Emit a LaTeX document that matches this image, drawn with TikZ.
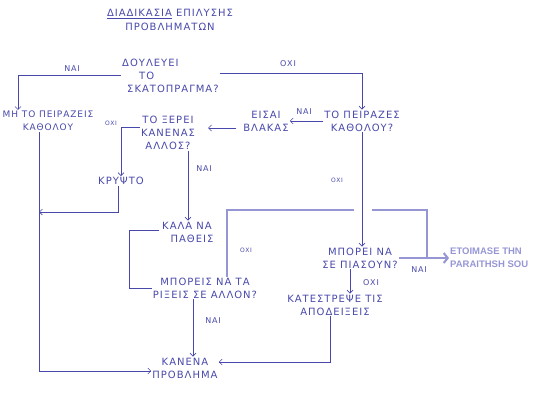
\documentclass[tikz,border=0pt]{standalone}
\usepackage{fontspec}
\setmainfont[LetterSpace=10]{DejaVu Sans}
\newfontfamily\printfont{Liberation Sans}
\usetikzlibrary{arrows.meta, positioning, calc}
\definecolor{pen1}{RGB}{72, 72, 172}
\definecolor{lav1}{RGB}{150, 150, 212}

\begin{document}
\begin{tikzpicture}[x=1pt, y=-1pt,
  hand/.style={text=pen1, font=\fontsize{10}{13}\selectfont, align=center, inner sep=1pt},
  lbl/.style={text=pen1, font=\fontsize{8}{9}\selectfont, inner sep=1pt},
  tinylbl/.style={text=pen1, font=\fontsize{6}{7}\selectfont, inner sep=1pt},
  penline/.style={draw=pen1, line width=0.6pt},
  flow/.style={penline, -{Straight Barb[length=3pt, width=6pt]}},
  added/.style={draw=lav1, line width=2pt},
  addarrow/.style={added, -{Straight Barb[length=4pt, width=10pt]}},
]
  \useasboundingbox (0,0) rectangle (550,407);

  % title
  \node[hand, font=\fontsize{10}{14}\selectfont] (title) at (170,20) {\underline{ΔΙΑΔΙΚΑΣΙΑ} ΕΠΙΛΥΣΗΣ\\ΠΡΟΒΛΗΜΑΤΩΝ};

  % questions and answers
  \node[hand, align=left, anchor=west] (q1) at (121,76) {ΔΟΥΛΕΥΕΙ\\\hspace*{17pt}ΤΟ\\\hspace*{5pt}ΣΚΑΤΟΠΡΑΓΜΑ?};
  \node[hand, font=\fontsize{9}{13}\selectfont] (keep) at (48,121) {ΜΗ ΤΟ ΠΕΙΡΑΖΕΙΣ\\ΚΑΘΟΛΟΥ};
  \node[hand] (q2) at (362,121) {ΤΟ ΠΕΙΡΑΖΕΣ\\ΚΑΘΟΛΟΥ?};
  \node[hand] (idiot) at (266,121) {ΕΙΣΑΙ\\ΒΛΑΚΑΣ};
  \node[hand] (know) at (168,133) {ΤΟ ΞΕΡΕΙ\\ΚΑΝΕΝΑΣ\\ΑΛΛΟΣ?};
  \node[hand] (hide) at (121,181) {ΚΡΥΨΤΟ};
  \node[hand] (poor) at (187,232) {ΚΑΛΑ ΝΑ\\\hspace*{10pt}ΠΑΘΕΙΣ};
  \node[hand] (blame) at (205,288) {ΜΠΟΡΕΙΣ ΝΑ ΤΑ\\ΡΙΞΕΙΣ ΣΕ ΑΛΛΟΝ?};
  \node[hand] (fine) at (185,368) {ΚΑΝΕΝΑ\\ΠΡΟΒΛΗΜΑ};
  \node[hand] (caught) at (360,258) {ΜΠΟΡΕΙ ΝΑ\\ΣΕ ΠΙΑΣΟΥΝ?};
  \node[hand] (destroy) at (335,305) {ΚΑΤΕΣΤΡΕΨΕ ΤΙΣ\\ΑΠΟΔΕΙΞΕΙΣ};
  \node[text=lav1, font=\printfont\bfseries\fontsize{9.5}{13}\selectfont, align=left, inner sep=1pt, anchor=west] (resign) at (449,258) {ETOIMASE THN\\PARAITHSH SOU};

  % labels
  \node[lbl] (yes1) at (72,69) {ΝΑΙ};
  \node[lbl] (no1) at (288,64) {ΟΧΙ};
  \node[lbl] (yes2) at (304,112) {ΝΑΙ};
  \node[tinylbl] (no2) at (111,123) {ΟΧΙ};
  \node[lbl] (yes3) at (204,169) {ΝΑΙ};
  \node[tinylbl] (no3) at (337,180) {ΟΧΙ};
  \node[tinylbl] (no4) at (246,250) {ΟΧΙ};
  \node[lbl] (yes4) at (419,270) {ΝΑΙ};
  \node[lbl] (no5) at (371,283) {ΟΧΙ};
  \node[lbl] (yes5) at (213,321) {ΝΑΙ};

  \coordinate (join) at ([xshift=-9pt]keep.south |- 0,212);
  \coordinate (ridge) at (227,210);
  \coordinate (hub) at (427,258);

  % hand-drawn connectors
  \draw[flow] ([yshift=1pt]q1.west) -| ([xshift=-30pt]keep.north);
  \draw[flow] ([yshift=3pt]q1.east) -| (q2.north);
  \draw[flow] (q2.west) -- (idiot.east);
  \draw[flow, shorten <=6pt, shorten >=12pt] ([yshift=-7pt]idiot.west) -- ([yshift=-7pt]idiot.west -| know.east);
  \draw[flow] ([yshift=6pt]know.west) -| (hide.north);
  \draw[flow] ([xshift=1pt]poor.north |- know.south) -- ([xshift=1pt]poor.north);
  \draw[flow] ([xshift=-9pt]keep.south) |- ([yshift=-3pt]fine.west);
  \draw[flow] ([xshift=-3pt]hide.south) |- (join);
  \draw[penline] ([yshift=2pt]poor.west) -| ([xshift=-22pt]blame.west) |- (blame.west);
  \draw[flow] ([xshift=8pt]fine.north |- blame.south) -- ([xshift=8pt]fine.north);
  \draw[flow] (q2.south) -- (q2.south |- caught.north);
  \draw[flow] ([xshift=-10pt]caught.south) -- ([xshift=-10pt]caught.south |- destroy.north);
  \draw[flow] ([xshift=-5pt]destroy.south) |- ([yshift=6pt]fine.east);

  % added connectors
  \draw[added] (ridge |- blame.north) -- (ridge) -- ([xshift=-8pt]q2.south |- ridge);
  \draw[added] ([xshift=10pt]q2.south |- ridge) -| (hub);
  \draw[added] (caught.east |- hub) -- (hub);
  \draw[addarrow] (hub) -- (resign.west);
\end{tikzpicture}
\end{document}
